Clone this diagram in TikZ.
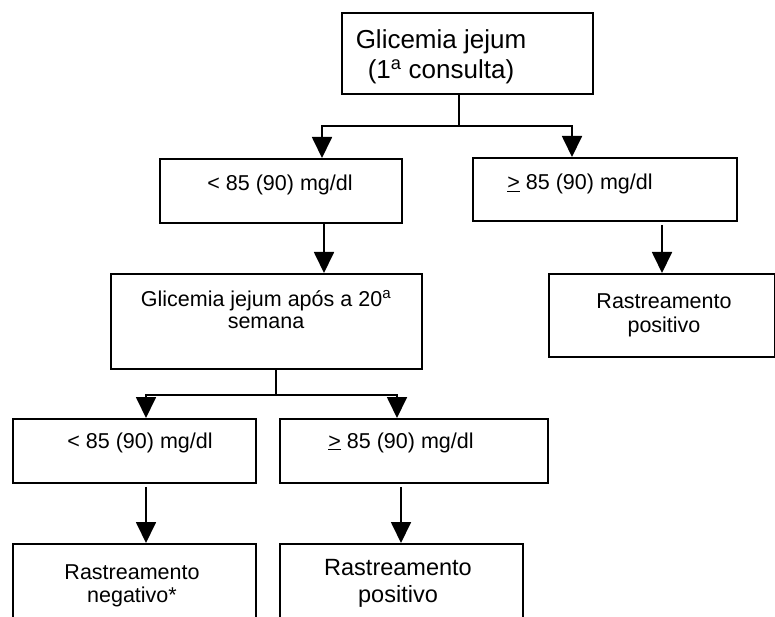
\documentclass[tikz,border=0pt]{standalone}
\usepackage{fontspec}
\setmainfont{Liberation Sans}
\usetikzlibrary{arrows.meta}

\tikzset{
  flowbox/.style={draw=black, line width=1.8pt, fill=white, rectangle, inner sep=0pt, anchor=north west},
  conn/.style={draw=black, line width=1.8pt},
  arr/.style={conn, -{Triangle[width=20pt,length=21pt]}},
  txt/.style={anchor=base, inner sep=0pt, font=\fontsize{21.5}{24}\selectfont},
  bigtxt/.style={txt, font=\fontsize{26}{29}\selectfont},
  midtxt/.style={txt, font=\fontsize{23.5}{26}\selectfont},
}
\newcommand{\ulgeq}{\underline{>}}

\begin{document}
\begin{tikzpicture}[x=1pt, y=-1pt]
  \useasboundingbox (0,0) rectangle (775,617);
  \clip (0,0) rectangle (775,617);

  % boxes
  \node[flowbox, minimum width=251pt, minimum height=81pt] (top) at (341,12) {};
  \node[flowbox, minimum width=242pt, minimum height=64pt] (lowA) at (159,158) {};
  \node[flowbox, minimum width=264pt, minimum height=63pt] (highA) at (472,157) {};
  \node[flowbox, minimum width=311pt, minimum height=95pt] (week) at (110,273) {};
  \node[flowbox, minimum width=226pt, minimum height=83pt] (posA) at (548,273) {};
  \node[flowbox, minimum width=243pt, minimum height=64pt] (lowB) at (12,418) {};
  \node[flowbox, minimum width=268pt, minimum height=64pt] (highB) at (279,418) {};
  \node[flowbox, minimum width=243pt, minimum height=100pt] (neg) at (12,543) {};
  \node[flowbox, minimum width=243pt, minimum height=100pt] (posB) at (279,543) {};

  % texts
  \node[bigtxt] (top1) at (441,49) {Glicemia jejum};
  \node[bigtxt] (top2) at (441,79) {(1\textsuperscript{a} consulta)};
  \node[txt] (lowAt) at (280,191) {< 85 (90) mg/dl};
  \node[txt] (highAt) at (580,190) {\ulgeq{} 85 (90) mg/dl};
  \node[txt] (week1) at (266,306) {Glicemia jejum após a 20\textsuperscript{a}};
  \node[txt] (week2) at (266,328) {semana};
  \node[txt] (posA1) at (664,308) {Rastreamento};
  \node[txt] (posA2) at (664,332) {positivo};
  \node[txt] (lowBt) at (140,448) {< 85 (90) mg/dl};
  \node[txt] (highBt) at (401,448) {\ulgeq{} 85 (90) mg/dl};
  \node[txt] (neg1) at (132,579) {Rastreamento};
  \node[txt] (neg2) at (132,602) {negativo*};
  \node[midtxt] (posB1) at (398,575) {Rastreamento};
  \node[midtxt] (posB2) at (398,602) {positivo};

  % junctions
  \coordinate (j1) at (459,126);
  \coordinate (j1l) at (322,126);
  \coordinate (j1r) at (572,126);
  \coordinate (j2) at (276,395);
  \coordinate (j2l) at (146,395);
  \coordinate (j2r) at (397,395);
  \coordinate (dA) at (324,0);
  \coordinate (dB) at (662,0);
  \coordinate (dC) at (146,0);
  \coordinate (dD) at (401,0);

  % connectors
  \draw[conn] (top.south -| j1) -- (j1);
  \draw[arr] (j1) -- (j1l) -- (j1l |- lowA.north);
  \draw[arr] (j1) -- (j1r) -- (j1r |- highA.north);
  \draw[arr] (lowA.south -| dA) -- (week.north -| dA);
  \draw[arr] ([yshift=-3pt]highA.south -| dB) -- (posA.north -| dB);
  \draw[conn] (week.south -| j2) -- (j2);
  \draw[arr] (j2) -- (j2l) -- (j2l |- lowB.north);
  \draw[arr] (j2) -- (j2r) -- (j2r |- highB.north);
  \draw[arr] ([yshift=-3pt]lowB.south -| dC) -- (neg.north -| dC);
  \draw[arr] ([yshift=-3pt]highB.south -| dD) -- (posB.north -| dD);
\end{tikzpicture}
\end{document}
